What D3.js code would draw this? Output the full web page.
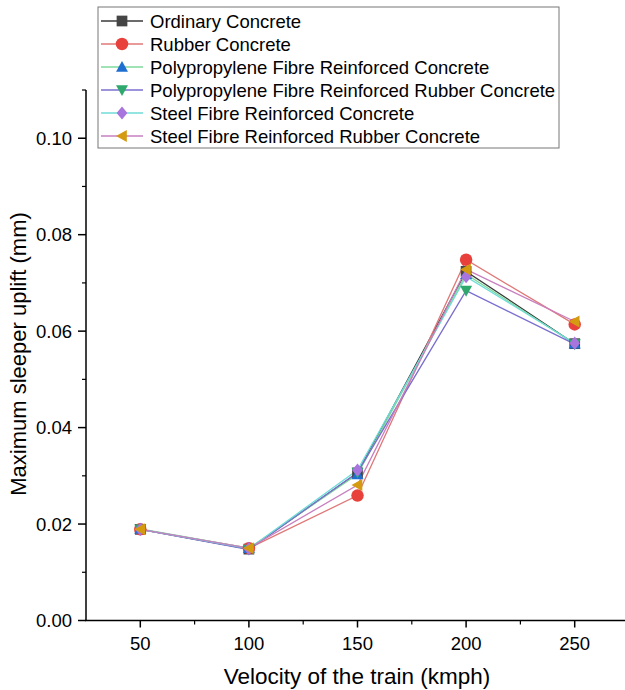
<!DOCTYPE html>
<html>
<head>
<meta charset="utf-8">
<script src="https://cdn.jsdelivr.net/npm/d3@7"></script>
<style>
  body { margin: 0; background: #fff; }
  svg { font-family: "Liberation Sans", Arial, sans-serif; }
</style>
</head>
<body>
<div id="chart"></div>
<script>
var velocities = [50, 100, 150, 200, 250];
var seriesNames = ["Ordinary Concrete", "Rubber Concrete", "Polypropylene Fibre Reinforced Concrete",
  "Polypropylene Fibre Reinforced Rubber Concrete", "Steel Fibre Reinforced Concrete",
  "Steel Fibre Reinforced Rubber Concrete"];
var ordinary = [0.0189, 0.0148, 0.0306, 0.0724, 0.0574];
var rubber = [0.0189, 0.0150, 0.0259, 0.0748, 0.0614];
var ppConcrete = [0.0190, 0.0150, 0.0303, 0.0718, 0.0574];
var ppRubber = [0.0189, 0.0147, 0.0307, 0.0684, 0.0573];
var steelConcrete = [0.0189, 0.0149, 0.0312, 0.0713, 0.0575];
var steelRubber = [0.0189, 0.0150, 0.0281, 0.0728, 0.0620];
var yTicks = [0, 0.02, 0.04, 0.06, 0.08, 0.10];

var lineColors = ["#3a3a3a", "#e07878", "#7fd89a", "#7a6fcf", "#6fdcd8", "#c77fbf"];
var markerColors = ["#454545", "#e8413c", "#1f6fd0", "#2fa86e", "#a874de", "#d49a10"];
var markerTypes = [d3.symbolSquare, d3.symbolCircle, "up", "down", d3.symbolDiamond, "left"];
var allSeries = [ordinary, rubber, ppConcrete, ppRubber, steelConcrete, steelRubber];

var width = 625, height = 690;
var svg = d3.select("#chart").append("svg")
  .attr("width", width).attr("height", height);

var x = d3.scaleLinear().domain([25, 275]).range([86, 629]);
var y = d3.scaleLinear().domain([0, 0.11]).range([620.5, 90]);

function markerPath(type, size) {
  var r = size / 2;
  if (type === "up") return "M0," + (-r) + "L" + r + "," + (r * 0.8) + "L" + (-r) + "," + (r * 0.8) + "Z";
  if (type === "down") return "M0," + r + "L" + r + "," + (-r * 0.8) + "L" + (-r) + "," + (-r * 0.8) + "Z";
  if (type === "left") return "M" + (-r) + ",0L" + (r * 0.8) + "," + (-r) + "L" + (r * 0.8) + "," + r + "Z";
  if (type === d3.symbolDiamond) return "M0," + (-r * 1.1) + "L" + (r * 0.9) + ",0L0," + (r * 1.1) + "L" + (-r * 0.9) + ",0Z";
  if (type === d3.symbolSquare) return d3.symbol().type(type).size(size * size * 0.8)();
  return d3.symbol().type(type).size(size * size * 0.85)();
}

// axes
var xAxis = svg.append("g").attr("transform", "translate(0," + y(0) + ")");
xAxis.append("line").attr("x1", 85).attr("x2", 629).attr("stroke", "#000").attr("stroke-width", 1.5);
xAxis.selectAll(".major").data(velocities).enter().append("line")
  .attr("x1", function(d) { return x(d); }).attr("x2", function(d) { return x(d); })
  .attr("y1", 0).attr("y2", 7).attr("stroke", "#000").attr("stroke-width", 1.5);
xAxis.selectAll(".minor").data([75, 125, 175, 225]).enter().append("line")
  .attr("x1", function(d) { return x(d); }).attr("x2", function(d) { return x(d); })
  .attr("y1", 0).attr("y2", 4).attr("stroke", "#000").attr("stroke-width", 1.2);
xAxis.selectAll("text").data(velocities).enter().append("text")
  .attr("x", function(d) { return x(d); }).attr("y", 29.5)
  .attr("text-anchor", "middle").attr("font-size", 18.5).text(function(d) { return d; });

var yAxis = svg.append("g");
yAxis.append("line").attr("x1", 86).attr("x2", 86).attr("y1", y(0.11)).attr("y2", y(0))
  .attr("stroke", "#000").attr("stroke-width", 1.5);
yAxis.selectAll(".major").data(yTicks).enter().append("line")
  .attr("x1", 78).attr("x2", 86)
  .attr("y1", function(d) { return y(d); }).attr("y2", function(d) { return y(d); })
  .attr("stroke", "#000").attr("stroke-width", 1.5);
yAxis.selectAll(".minor").data([0.01, 0.03, 0.05, 0.07, 0.09, 0.11]).enter().append("line")
  .attr("x1", 82).attr("x2", 86)
  .attr("y1", function(d) { return y(d); }).attr("y2", function(d) { return y(d); })
  .attr("stroke", "#000").attr("stroke-width", 1.2);
yAxis.selectAll("text").data(yTicks).enter().append("text")
  .attr("x", 72).attr("y", function(d) { return y(d) + 6.5; })
  .attr("text-anchor", "end").attr("font-size", 18.5).text(function(d) { return d3.format(".2f")(d); });

svg.append("text").attr("x", 357).attr("y", 684).attr("text-anchor", "middle")
  .attr("font-size", 22.5).text("Velocity of the train (kmph)");
svg.append("text").attr("transform", "translate(26,354) rotate(-90)").attr("text-anchor", "middle")
  .attr("font-size", 22).text("Maximum sleeper uplift (mm)");

// lines
var line = d3.line().x(function(d, i) { return x(velocities[i]); }).y(function(d) { return y(d); });
allSeries.forEach(function(s, k) {
  svg.append("path").datum(s).attr("d", line).attr("fill", "none")
    .attr("stroke", lineColors[k]).attr("stroke-width", 1.3);
});
allSeries.forEach(function(s, k) {
  svg.selectAll(".m" + k).data(s).enter().append("path")
    .attr("transform", function(d, i) { return "translate(" + x(velocities[i]) + "," + y(d) + ")"; })
    .attr("d", markerPath(markerTypes[k], 12)).attr("fill", markerColors[k]);
});

// legend
var legend = svg.append("g");
legend.append("rect").attr("x", 98).attr("y", 7).attr("width", 461).attr("height", 141)
  .attr("fill", "#fff").attr("stroke", "#777").attr("stroke-width", 1);
seriesNames.forEach(function(name, k) {
  var ly = 21 + k * 23;
  legend.append("line").attr("x1", 101).attr("x2", 143).attr("y1", ly).attr("y2", ly)
    .attr("stroke", lineColors[k]).attr("stroke-width", 1.3);
  legend.append("path").attr("transform", "translate(122," + ly + ")")
    .attr("d", markerPath(markerTypes[k], 12)).attr("fill", markerColors[k]);
  legend.append("text").attr("x", 150).attr("y", ly + 6.5).attr("font-size", 18.5).text(name);
});
</script>
</body>
</html>
